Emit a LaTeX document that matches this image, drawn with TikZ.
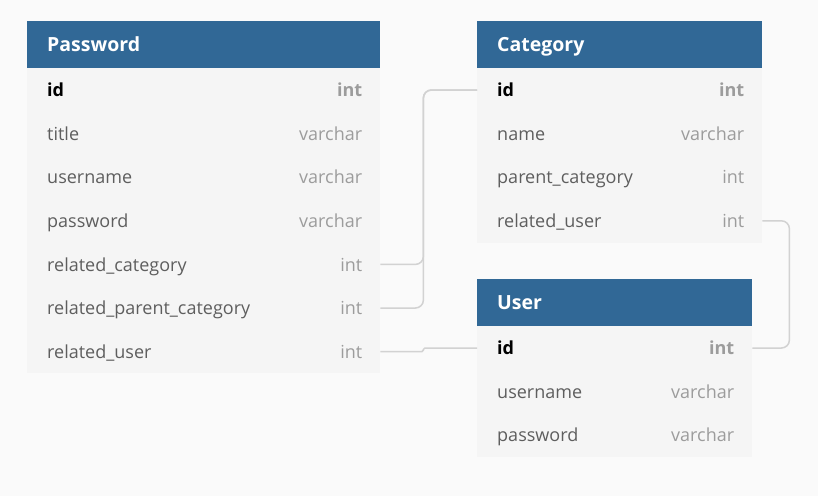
\documentclass[tikz,border=0pt]{standalone}
\usepackage{fontspec}
\setmainfont{Open Sans}
\definecolor{hdrblue}{HTML}{316896}
\definecolor{bodybg}{HTML}{F5F5F5}
\definecolor{pagebg}{HTML}{FAFAFA}
\definecolor{fldcol}{HTML}{5E5E5E}
\definecolor{typcol}{HTML}{9C9C9C}
\definecolor{conncol}{HTML}{D2D2D2}
\tikzset{
  hdr/.style={fill=hdrblue, draw=none, minimum height=47pt, inner sep=0pt, anchor=north west},
  rowbox/.style={fill=bodybg, draw=none, minimum height=43.6pt, inner sep=0pt, anchor=north west},
  ttl/.style={text=white, font=\fontsize{19.5}{22}\selectfont\bfseries, inner sep=0pt, text height=14pt, text depth=0pt, anchor=west},
  fld/.style={text=fldcol, font=\fontsize{18}{20}\selectfont, inner sep=0pt, text height=13.5pt, text depth=0pt, anchor=west},
  typ/.style={text=typcol, font=\fontsize{18}{20}\selectfont, inner sep=0pt, text height=13.5pt, text depth=0pt, anchor=east},
  conn/.style={draw=conncol, line width=1.5pt, rounded corners=8pt},
}
\newcommand\dbhead[5]{%
  \node[hdr, minimum width=#4] (#1) at (#2,#3) {};
  \node[ttl] (#1-title) at ([xshift=20pt]#1.west) {#5};}
\newcommand\dbrow[7]{%
  \node[rowbox, minimum width=#5] (#1-#2) at (#3,#4) {};
  \node[fld] (#1-#2-f) at ([xshift=20pt]#1-#2.west) {#6};
  \node[typ] (#1-#2-t) at ([xshift=-18pt]#1-#2.east) {#7};}
\begin{document}
\begin{tikzpicture}[x=1pt, y=-1pt]
\fill[pagebg] (0,0) rectangle (818,496);
\useasboundingbox (0,0) rectangle (818,496);
% Password table
\dbhead{pw}{27}{21}{353pt}{Password}
\dbrow{pw}{id}{27}{68}{353pt}{\color{black}\bfseries id}{\bfseries int}
\dbrow{pw}{title}{27}{111.6}{353pt}{title}{varchar}
\dbrow{pw}{un}{27}{155.2}{353pt}{username}{varchar}
\dbrow{pw}{pw}{27}{198.8}{353pt}{password}{varchar}
\dbrow{pw}{rc}{27}{242.4}{353pt}{related\_category}{int}
\dbrow{pw}{rpc}{27}{286}{353pt}{related\_parent\_category}{int}
\dbrow{pw}{ru}{27}{329.6}{353pt}{related\_user}{int}
% Category table
\dbhead{cat}{477}{21}{285pt}{Category}
\dbrow{cat}{id}{477}{68}{285pt}{\color{black}\bfseries id}{\bfseries int}
\dbrow{cat}{name}{477}{111.6}{285pt}{name}{varchar}
\dbrow{cat}{pc}{477}{155.2}{285pt}{parent\_category}{int}
\dbrow{cat}{ru}{477}{198.8}{285pt}{related\_user}{int}
% User table
\dbhead{us}{477}{279}{275pt}{User}
\dbrow{us}{id}{477}{326}{275pt}{\color{black}\bfseries id}{\bfseries int}
\dbrow{us}{un}{477}{369.6}{275pt}{username}{varchar}
\dbrow{us}{pw}{477}{413.2}{275pt}{password}{varchar}
% connectors
\draw[conn] (pw-rc.east) -- ++(43,0) |- (cat-id.west);
\draw[conn] (pw-rpc.east) -- ++(43,0) |- (cat-id.west);
\draw[conn, rounded corners=1.5pt] (pw-ru.east) -- ++(43,0) |- (us-id.west);
\draw[conn] (cat-ru.east) -- ++(27,0) |- (us-id.east);
\end{tikzpicture}
\end{document}
